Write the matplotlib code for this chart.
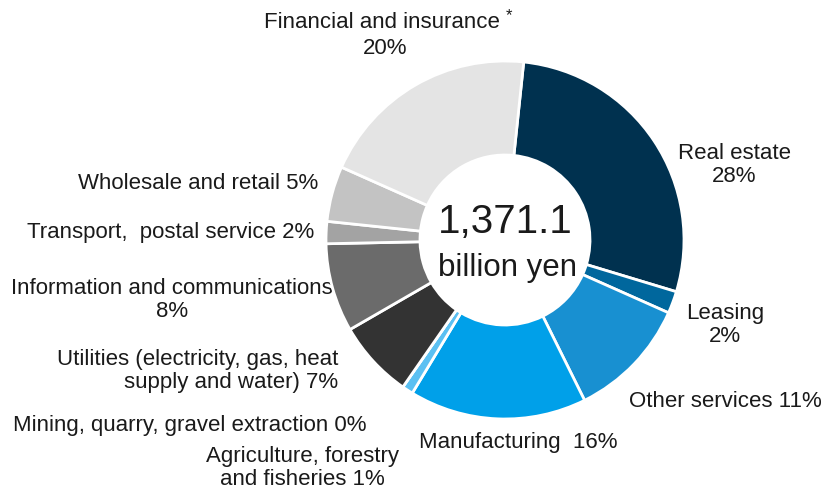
import matplotlib
matplotlib.use("Agg")
import matplotlib.pyplot as plt

plt.rcParams['font.family'] = ['Liberation Sans', 'DejaVu Sans']

sectors = ["Real estate", "Leasing", "Other services", "Manufacturing",
           "Agriculture, forestry and fisheries", "Mining, quarry, gravel extraction",
           "Utilities (electricity, gas, heat supply and water)",
           "Information and communications", "Transport, postal service",
           "Wholesale and retail", "Financial and insurance"]
shares = [28, 2, 11, 16, 1, 0, 7, 8, 2, 5, 20]
colors = ["#00314f", "#00679d", "#1890d1", "#00a0e9", "#5bc0f2", "#9fd9f7",
          "#333333", "#6b6b6b", "#a3a3a3", "#c3c3c3", "#e4e4e4"]
total_label = "1,371.1"
unit_label = "billion yen"

W, H = 827, 490
fig = plt.figure(figsize=(W / 100, H / 100), dpi=100)
ax = fig.add_axes([0, 0, 1, 1])
ax.set_xlim(0, W)
ax.set_ylim(H, 0)
ax.axis("off")

# donut drawn in a separate axes so the pie uses upward-y geometry
pax = fig.add_axes([0, 0, 1, 1])
cx, cy, R, r_in = 505, H - 240, 179, 85
pax.pie(shares, colors=colors, startangle=84, counterclock=False,
        center=(cx, cy), radius=R,
        wedgeprops=dict(width=R - r_in, edgecolor="white", linewidth=2),
        frame=True)
pax.set_xlim(0, W)
pax.set_ylim(0, H)
pax.set_aspect("equal")
pax.axis("off")

fs = 16
tc = "#1a1a1a"
ax.text(505, 222, total_label, ha="center", va="center", fontsize=29, color=tc)
ax.text(507, 268, unit_label, ha="center", va="center", fontsize=22.5, color=tc)

ax.text(382, 22, "Financial and insurance", ha="center", va="center", fontsize=fs, color=tc)
ax.text(509, 16, "*", ha="center", va="center", fontsize=12, color=tc)
ax.text(385, 48, "20%", ha="center", va="center", fontsize=fs, color=tc)
ax.text(734, 165, "Real estate\n28%", ha="center", va="center", fontsize=fs,
        color=tc, linespacing=1.15)
ax.text(725, 325, "Leasing\n2%", ha="center", va="center", fontsize=fs,
        color=tc, linespacing=1.15)
ax.text(725, 401, "Other services 11%", ha="center", va="center", fontsize=fs, color=tc)
ax.text(518, 442, "Manufacturing  16%", ha="center", va="center", fontsize=fs, color=tc)
ax.text(302, 468, "Agriculture, forestry\nand fisheries 1%", ha="center", va="center",
        fontsize=fs, color=tc, linespacing=1.15)
ax.text(190, 425, "Mining, quarry, gravel extraction 0%", ha="center", va="center",
        fontsize=fs, color=tc)
ax.text(338, 371, "Utilities (electricity, gas, heat\nsupply and water) 7%", ha="right",
        va="center", multialignment="right", fontsize=fs, color=tc, linespacing=1.15)
ax.text(172, 300, "Information and communications\n8%", ha="center", va="center",
        fontsize=fs, color=tc, linespacing=1.15)
ax.text(314, 232, "Transport,  postal service 2%", ha="right", va="center",
        fontsize=fs, color=tc)
ax.text(318, 183, "Wholesale and retail 5%", ha="right", va="center",
        fontsize=fs, color=tc)

fig.savefig("out.png", dpi=100)
